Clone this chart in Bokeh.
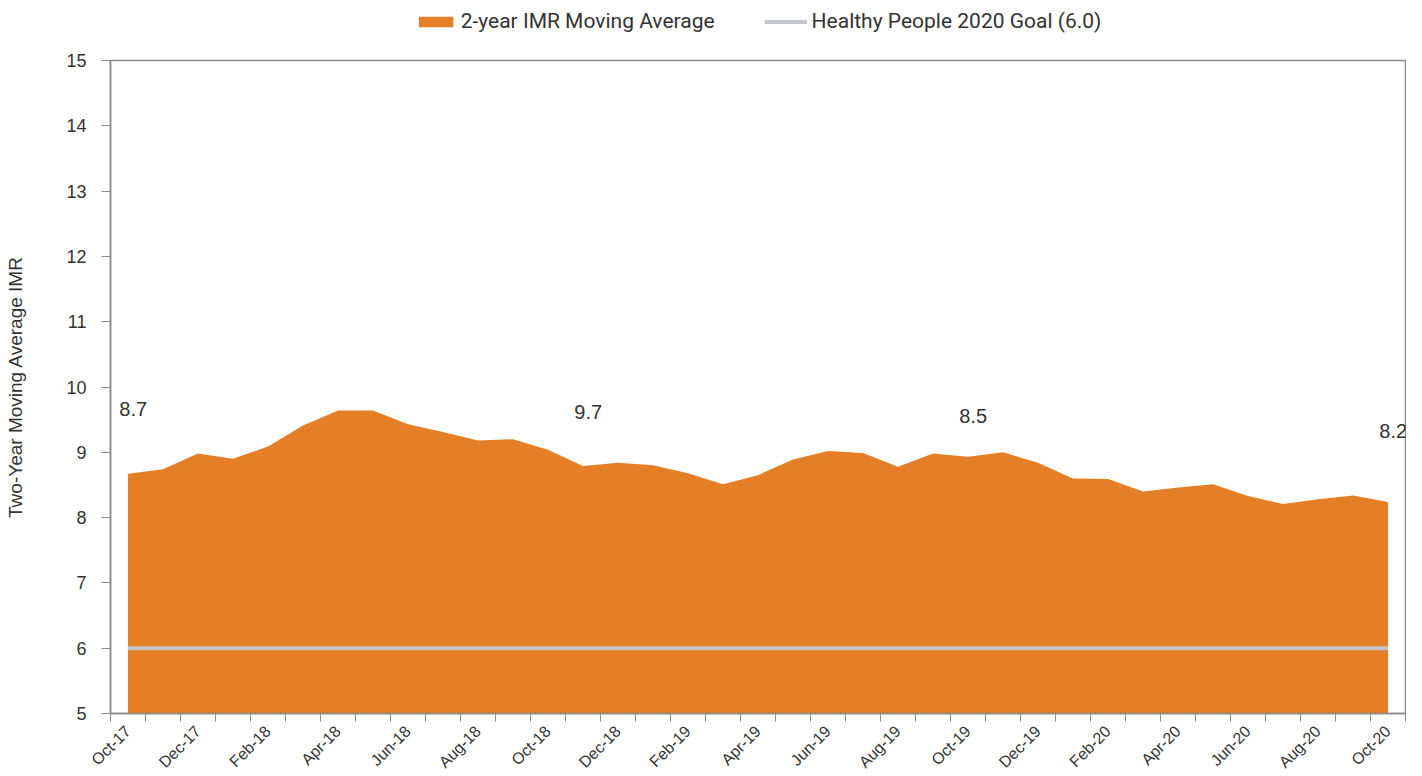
import math
from bokeh.plotting import figure
from bokeh.layouts import column
from bokeh.models import FixedTicker, Legend, LegendItem, Range1d, ColumnDataSource
from bokeh.core.properties import value
from bokeh.embed import file_html
from bokeh.resources import INLINE

months = ["Oct-17", "Nov-17", "Dec-17", "Jan-18", "Feb-18", "Mar-18", "Apr-18", "May-18",
          "Jun-18", "Jul-18", "Aug-18", "Sep-18", "Oct-18", "Nov-18", "Dec-18", "Jan-19",
          "Feb-19", "Mar-19", "Apr-19", "May-19", "Jun-19", "Jul-19", "Aug-19", "Sep-19",
          "Oct-19", "Nov-19", "Dec-19", "Jan-20", "Feb-20", "Mar-20", "Apr-20", "May-20",
          "Jun-20", "Jul-20", "Aug-20", "Sep-20", "Oct-20"]
imr = [8.67, 8.74, 8.98, 8.90, 9.09, 9.41, 9.64, 9.64, 9.43, 9.31, 9.18, 9.20, 9.04,
       8.79, 8.84, 8.80, 8.68, 8.51, 8.65, 8.89, 9.02, 8.99, 8.78, 8.98, 8.93, 9.00,
       8.84, 8.60, 8.59, 8.40, 8.46, 8.51, 8.33, 8.21, 8.28, 8.34, 8.24]
goal = 6.0
label_months = ["Oct-17", "Nov-18", "Oct-19", "Oct-20"]
label_texts = ["8.7", "9.7", "8.5", "8.2"]
label_y = [9.67, 9.62, 9.56, 9.33]
series_names = ["2-year IMR Moving Average", "Healthy People 2020 Goal (6.0)"]

ORANGE = "#E57F27"
GRAY = "#C3C6CA"
xs = list(range(len(months)))

# ---- main chart ----
p = figure(frame_width=1295, frame_height=653, output_backend="svg", toolbar_location=None,
           x_range=Range1d(-0.5, len(months) - 0.5), y_range=Range1d(5, 15),
           min_border_left=110, min_border_right=1, min_border_top=18, min_border_bottom=0)
p.title.visible = False

area = p.varea(x=xs, y1=[5] * len(xs), y2=imr, fill_color=ORANGE, fill_alpha=1.0)
gl = p.line(x=[xs[0], xs[-1]], y=[goal, goal], line_color=GRAY, line_width=4)

src = ColumnDataSource(dict(x=[months.index(m) + 0.15 for m in label_months], y=label_y, t=label_texts))
p.text(x="x", y="y", text="t", source=src, text_align="center", text_baseline="middle",
       text_font=value("Liberation Sans"), text_font_size="20px", text_color="#333333")

p.xgrid.visible = False
p.ygrid.visible = False
p.outline_line_color = "#8A8A8A"
p.outline_line_width = 1.5

xa = p.xaxis[0]
xa.ticker = FixedTicker(ticks=xs[::2], minor_ticks=[i - 0.5 for i in range(len(months) + 1)])
xa.major_label_overrides = {i: months[i] for i in xs[::2]}
xa.major_tick_line_color = None
xa.minor_tick_out = 8
xa.minor_tick_in = 0
xa.minor_tick_line_color = "#8A8A8A"
xa.axis_line_color = "#8A8A8A"
xa.axis_line_width = 1.5
xa.major_label_orientation = math.pi / 4
xa.major_label_text_font = "Liberation Sans"
xa.major_label_text_font_size = "16px"
xa.major_label_text_color = "#333333"
xa.major_label_standoff = 7

ya = p.yaxis[0]
ya.ticker = FixedTicker(ticks=list(range(5, 16)))
ya.minor_tick_line_color = None
ya.major_tick_out = 9
ya.major_tick_in = 0
ya.major_tick_line_color = "#8A8A8A"
ya.axis_line_color = "#8A8A8A"
ya.axis_line_width = 1.5
ya.major_label_text_font = "Liberation Sans"
ya.major_label_text_font_size = "18px"
ya.major_label_text_color = "#333333"
ya.major_label_standoff = 15
ya.axis_label = "Two-Year Moving Average IMR"
ya.axis_label_text_font = "Liberation Sans"
ya.axis_label_text_font_style = "normal"
ya.axis_label_text_font_size = "19px"
ya.axis_label_text_color = "#333333"
ya.axis_label_standoff = 37

# ---- legend strip ----
lf = figure(width=1406, height=42, output_backend="svg", toolbar_location=None,
            x_range=Range1d(0, 1), y_range=Range1d(0, 1),
            x_axis_location=None, y_axis_location=None,
            min_border=0, min_border_left=0, min_border_right=0, min_border_top=0, min_border_bottom=0)
lf.title.visible = False
lf.outline_line_color = None
lf.xgrid.visible = False
lf.ygrid.visible = False
la = lf.varea(x=[x + 100 for x in xs], y1=[5] * len(xs), y2=imr, fill_color=ORANGE, fill_alpha=1.0)
ll = lf.line(x=[xs[0] + 100, xs[-1] + 100], y=[goal, goal], line_color=GRAY, line_width=4)
legend = Legend(items=[LegendItem(label=series_names[0], renderers=[la]),
                       LegendItem(label=series_names[1], renderers=[ll])],
                orientation="horizontal", location="center",
                label_text_font="Roboto", label_text_font_size="21px", label_text_color="#333333",
                glyph_width=43, glyph_height=13, spacing=50, label_standoff=4,
                border_line_color=None, background_fill_alpha=0, padding=0, margin=0)
lf.add_layout(legend, "center")

layout = column(lf, p, spacing=0)
open("out.html", "w").write(file_html(layout, INLINE))
